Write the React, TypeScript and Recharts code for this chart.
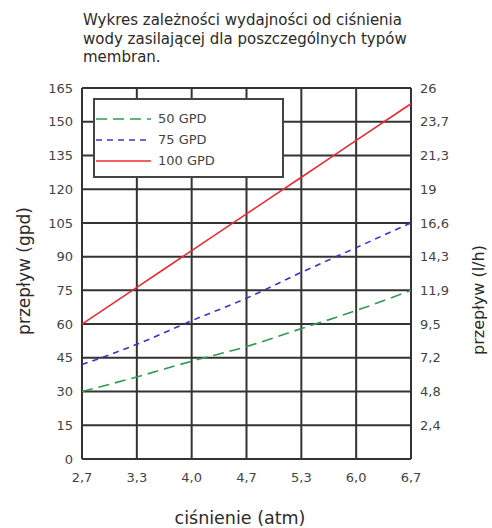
import { LineChart, Line, XAxis, YAxis, CartesianGrid } from 'recharts';

const pressures = ['2,7', '3,3', '4,0', '4,7', '5,3', '6,0', '6,7'];
const gpd50 = [30, 36.5, 43.5, 50, 58, 66, 75];
const gpd75 = [42, 51, 61.5, 71.5, 83, 94, 105];
const gpd100 = [60, 76.3, 92.7, 109, 125.3, 141.7, 158];
const leftTicks = [0, 15, 30, 45, 60, 75, 90, 105, 120, 135, 150, 165];
const rightLabels = ['', '2,4', '4,8', '7,2', '9,5', '11,9', '14,3', '16,6', '19', '21,3', '23,7', '26'];

// both y axes share the 0..165 gpd domain; the right one only relabels it in l/h
const series = [
    { key: 'g50', name: '50 GPD', color: '#2e9b55', dash: '11 6', axis: 'l' },
    { key: 'g75', name: '75 GPD', color: '#3434d4', dash: '6 5', axis: 'l' },
    { key: 'g100', name: '100 GPD', color: '#ec2a35', dash: undefined, axis: 'r' },
];

const data = pressures.map((p, i) => ({
    p,
    g50: gpd50[i],
    g75: gpd75[i],
    g100: gpd100[i],
}));

const font = '"DejaVu Sans", Verdana, sans-serif';
const tickStyle = { fill: '#444', fontSize: 13, fontFamily: font };

function LegendBox() {
    return (
        <div
            style={{
                position: 'absolute',
                left: 93,
                top: 98,
                width: 187,
                height: 68,
                border: '2px solid #444',
                background: '#fff',
                paddingTop: 8,
            }}
        >
            {series.map((s) => (
                <div key={s.key} style={{ display: 'flex', alignItems: 'center', height: 21 }}>
                    <svg width={62} height={10} style={{ marginLeft: 1 }}>
                        <line x1={0} y1={5} x2={55} y2={5} stroke={s.color} strokeWidth={1.6} strokeDasharray={s.dash} />
                    </svg>
                    <span style={{ fontSize: 13, color: '#444', fontFamily: font }}>{s.name}</span>
                </div>
            ))}
        </div>
    );
}

export default function App() {
    return (
        <div style={{ position: 'absolute', left: 0, top: 0, width: 492, height: 528, background: '#fff', fontFamily: font }}>
            <div style={{ position: 'absolute', left: 83, top: 11, fontSize: 15, lineHeight: '18.5px', color: '#2a2a2a', whiteSpace: 'nowrap' }}>
                Wykres zależności wydajności od ciśnienia
                <br />
                wody zasilającej dla poszczególnych typów
                <br />
                membran.
            </div>
            <LineChart width={492} height={528} data={data} margin={{ top: 88, right: 0, bottom: 0, left: 0 }}>
                <CartesianGrid yAxisId="l" stroke="#333" strokeWidth={2} />
                <XAxis
                    dataKey="p"
                    axisLine={false}
                    tickLine={false}
                    tick={tickStyle}
                    tickSize={12}
                    height={69}
                    interval={0}
                />
                <YAxis
                    yAxisId="l"
                    type="number"
                    domain={[0, 165]}
                    ticks={leftTicks}
                    axisLine={false}
                    tickLine={false}
                    tick={tickStyle}
                    tickSize={7}
                    width={82}
                    interval={0}
                />
                <YAxis
                    yAxisId="r"
                    type="number"
                    orientation="right"
                    domain={[0, 165]}
                    ticks={leftTicks}
                    tickFormatter={(v: number) => rightLabels[leftTicks.indexOf(v)]}
                    axisLine={false}
                    tickLine={false}
                    tick={tickStyle}
                    tickSize={7}
                    width={81}
                    interval={0}
                />
                {series.map((s) => (
                    <Line
                        key={s.key}
                        yAxisId={s.axis}
                        type="monotone"
                        dataKey={s.key}
                        name={s.name}
                        stroke={s.color}
                        strokeWidth={1.6}
                        strokeDasharray={s.dash}
                        dot={false}
                        isAnimationActive={false}
                    />
                ))}
            </LineChart>
            <LegendBox />
            <div
                style={{
                    position: 'absolute',
                    left: 24,
                    top: 271,
                    transform: 'translate(-50%, -50%) rotate(-90deg)',
                    fontSize: 17,
                    color: '#2a2a2a',
                    whiteSpace: 'nowrap',
                }}
            >
                przepływ (gpd)
            </div>
            <div
                style={{
                    position: 'absolute',
                    left: 478,
                    top: 300,
                    transform: 'translate(-50%, -50%) rotate(-90deg)',
                    fontSize: 16,
                    color: '#2a2a2a',
                    whiteSpace: 'nowrap',
                }}
            >
                przepływ (l/h)
            </div>
            <div
                style={{
                    position: 'absolute',
                    left: 240,
                    top: 518,
                    transform: 'translate(-50%, -50%)',
                    fontSize: 17.5,
                    color: '#2a2a2a',
                    whiteSpace: 'nowrap',
                }}
            >
                ciśnienie (atm)
            </div>
        </div>
    );
}
